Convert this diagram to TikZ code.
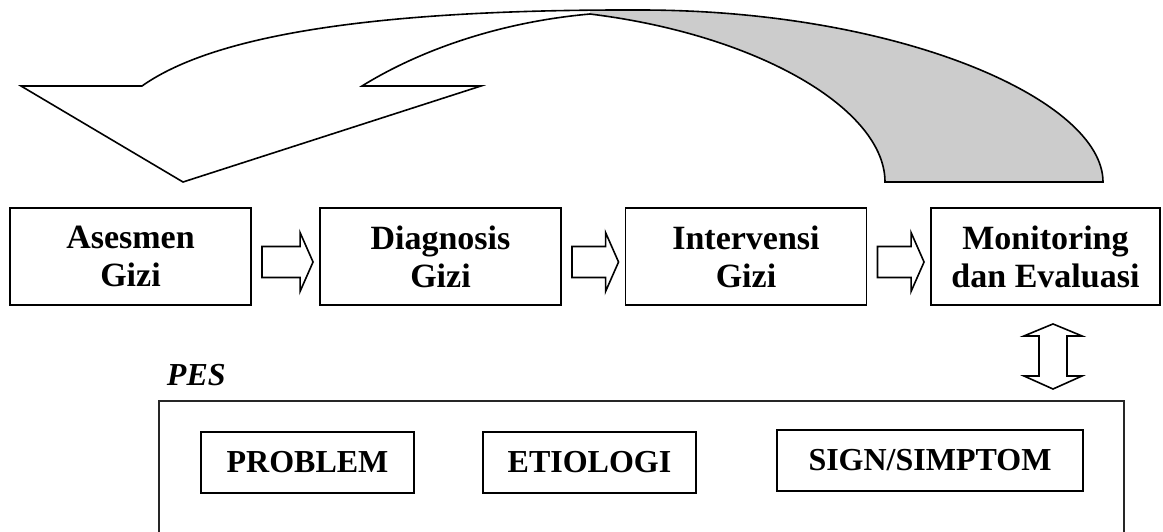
\documentclass[tikz,border=0pt]{standalone}
\usepackage{fontspec}
\setmainfont{Liberation Serif}
\usetikzlibrary{calc}
\definecolor{ribbongray}{RGB}{204,204,204}

% right-pointing block arrow between two stages
\newcommand\flowarrow[2]{%
  \draw[arrowline] let \p1=(#1.east), \p2=(#2.west), \n1={\y1-5.5pt} in
    (\x1+10pt,\n1+15.5pt) -- (\x2-19pt,\n1+15.5pt) -- (\x2-19pt,\n1+29.5pt)
    -- (\x2-6pt,\n1) -- (\x2-19pt,\n1-29.5pt) -- (\x2-19pt,\n1-15.5pt)
    -- (\x1+10pt,\n1-15.5pt) -- cycle;}

\begin{document}
\begin{tikzpicture}[x=1pt,y=-1pt,
  line width=1.9pt, line join=miter,
  arrowline/.style={line width=1.6pt},
  stagefont/.style={font=\bfseries\fontsize{34}{38}\selectfont},
  itemfont/.style={font=\bfseries\fontsize{32}{36}\selectfont},
  stage/.style={draw, stagefont, minimum width=241pt, minimum height=97pt,
    inner sep=0pt, align=center},
  pesitem/.style={draw, itemfont, minimum height=61pt, inner sep=0pt},
]
\useasboundingbox (0,0) rectangle (1163,531);
\clip (0,0) rectangle (1163,531);

% curved feedback ribbon: shaded back face, then the full outline
\fill[ribbongray] (885,182) -- (1103,182)
  .. controls (1103,100) and (900,10) .. (640,10) -- (590,10.3) -- (590,14)
  .. controls (760,35) and (885,110) .. (885,182) -- cycle;
\draw[arrowline] (21,86) -- (142,86) .. controls (200,45) and (330,9) .. (640,10)
  .. controls (900,10) and (1103,100) .. (1103,182) -- (885,182)
  .. controls (885,110) and (760,35) .. (590,14)
  .. controls (500,22) and (420,50) .. (362,86) -- (481,86) -- (183,182) -- cycle;

% process stages
\node[stage] (asesmen) at (130.5,256.5) {Asesmen\\Gizi};
\node[stage] (diagnosis) at (440.5,256.5) {Diagnosis\\Gizi};
\node[stage] (intervensi) at (746,256.5) {Intervensi\\Gizi};
\node[stage, minimum width=229pt] (monev) at (1045.5,256.5) {Monitoring\\dan Evaluasi};

\flowarrow{asesmen}{diagnosis}
\flowarrow{diagnosis}{intervensi}
\flowarrow{intervensi}{monev}

% PES frame and its components
\node[font=\bfseries\itshape\fontsize{32}{36}\selectfont,
  anchor=base west, inner sep=0pt] (peslabel) at (166,385) {PES};
\node[draw=black!85, line width=1.5pt, anchor=north west, minimum width=965pt,
  minimum height=150pt, inner sep=0pt] (pes) at (158,400) {};
\node[pesitem, minimum width=213pt] (problem) at (307.5,462.5) {PROBLEM};
\node[pesitem, minimum width=213pt] (etiologi) at (589.5,462.5) {ETIOLOGI};
\node[pesitem, minimum width=306pt] (sign) at (930,460.5) {SIGN/SIMPTOM};

% two-way link between monitoring and PES
\draw[arrowline] let \p1=(monev.south), \p2=(pes.north), \n1={\x1+7.5pt} in
  (\n1,\y1-18pt) -- (\n1+29pt,\y1-30pt) -- (\n1+14pt,\y1-30pt)
  -- (\n1+14pt,\y2+24pt) -- (\n1+29pt,\y2+24pt) -- (\n1,\y2+11pt)
  -- (\n1-29pt,\y2+24pt) -- (\n1-14pt,\y2+24pt) -- (\n1-14pt,\y1-30pt)
  -- (\n1-29pt,\y1-30pt) -- cycle;
\end{tikzpicture}
\end{document}
